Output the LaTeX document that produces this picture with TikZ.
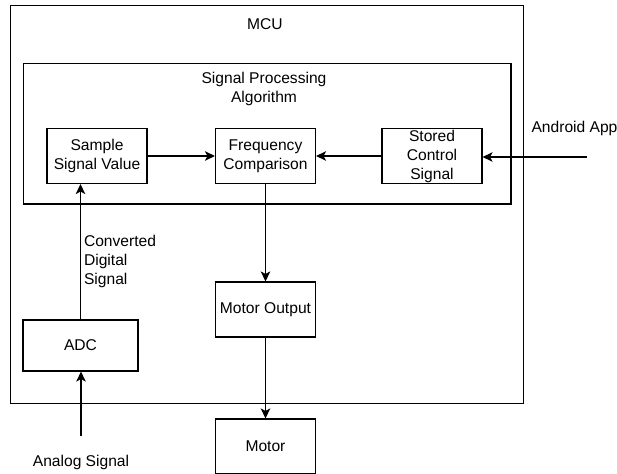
\documentclass[tikz,border=0pt]{standalone}
\usepackage{fontspec}
\setmainfont{Liberation Sans}
\usetikzlibrary{arrows.meta,positioning}

\begin{document}
\begin{tikzpicture}[
    x=1pt, y=-1pt,
    line width=1.1pt,
    >={Stealth[length=10pt,width=9.5pt,inset=2.5pt]},
    font=\fontsize{15.6}{19}\selectfont,
    frame/.style={
        draw,
        rectangle,
        inner sep=0pt
    },
    block/.style={
        draw,
        rectangle,
        align=center,
        inner sep=1pt,
        minimum width=100pt,
        minimum height=55pt
    },
    tag/.style={
        align=center,
        inner sep=0pt
    }
]
\useasboundingbox (0,0) rectangle (617,473);

% containers
\node[frame, minimum width=513pt, minimum height=398pt] (mcu) at (267,204.5) {};
\node[frame, minimum width=487.5pt, minimum height=140.5pt] (spa) at (267.25,133.75) {};
\node[tag] (mcutext) at (265,24) {MCU};
\node[tag] (spatext) at (264,89) {Signal Processing\\Algorithm};

% blocks
\node[block] (sample) at (97,156) {Sample\\Signal Value};
\node[block] (freq) at (265.5,156) {Frequency\\Comparison};
\node[block, inner sep=0pt] (stored) at (432,156) {Stored\\Control\\Signal};
\node[block, minimum width=115pt, minimum height=51pt] (adc) at (80.5,345.5) {ADC};
\node[block] (motorout) at (265.5,309.5) {Motor Output};
\node[block] (motor) at (265.5,446.5) {Motor};

% outside inputs
\coordinate (appin) at (587,157);
\coordinate (analogin) at (81,436);
\node[tag, anchor=west] (apptext) at (531,128) {Android App};
\node[tag] (analogtext) at (81,462) {Analog Signal};
\node[tag, anchor=west, align=left] (convtext) at (83.5,261) {Converted\\Digital\\Signal};

\draw[->] (sample) -- (freq);
\draw[->] (stored) -- (freq);
\draw[->] (appin) -- (appin -| stored.east);
\draw[->] (adc.north) -- (adc.north |- sample.south);
\draw[->] (analogin) -- (analogin |- adc.south);
\draw[->] (freq) -- (motorout);
\draw[->] (motorout) -- (motor);

\end{tikzpicture}
\end{document}
